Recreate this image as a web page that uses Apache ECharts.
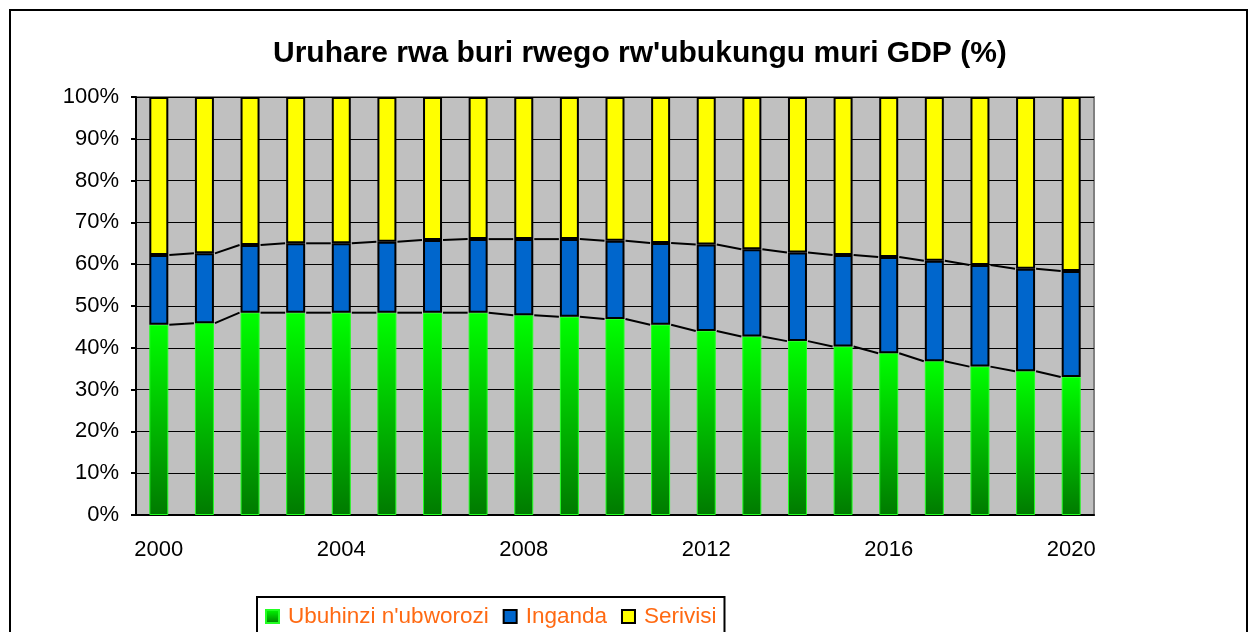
<!DOCTYPE html>
<html>
<head>
<meta charset="utf-8">
<script src="https://cdn.jsdelivr.net/npm/echarts@6/dist/echarts.min.js"></script>
<style>
  html, body { margin: 0; padding: 0; background: #fff; }
  #chart { width: 1251px; height: 632px; }
</style>
</head>
<body>
<div id="chart"></div>
<script>
const years = ['2000', '2001', '2002', '2003', '2004', '2005', '2006', '2007', '2008', '2009', '2010',
  '2011', '2012', '2013', '2014', '2015', '2016', '2017', '2018', '2019', '2020'];
// shares of GDP (%)
const agriculture = [45.5, 45.9, 48.4, 48.4, 48.4, 48.4, 48.4, 48.4, 47.8, 47.4, 46.9,
  45.5, 44.0, 42.7, 41.6, 40.3, 38.7, 36.8, 35.5, 34.4, 33.0];
const industry = [16.7, 16.7, 16.2, 16.6, 16.6, 17.0, 17.4, 17.6, 18.2, 18.6, 18.7,
  19.6, 20.7, 20.9, 21.2, 21.9, 23.0, 24.0, 24.3, 24.5, 25.4];
const services = [37.8, 37.4, 35.4, 35.0, 35.0, 34.6, 34.2, 34.0, 34.0, 34.0, 34.4,
  34.9, 35.3, 36.4, 37.2, 37.8, 38.3, 39.2, 40.2, 41.1, 41.6];
const seriesNames = ["Ubuhinzi n'ubworozi", 'Inganda', 'Serivisi'];

const font = 'Arial, "Liberation Sans", sans-serif';
const barW = 19;

// series lines (Excel style) joining the top of each stack part to the next bar
const joinData = [];
for (let i = 0; i < years.length - 1; i++) {
  joinData.push([
    i,
    agriculture[i], agriculture[i + 1],
    agriculture[i] + industry[i], agriculture[i + 1] + industry[i + 1],
  ]);
}

const chart = echarts.init(document.getElementById('chart'));

chart.setOption({
  animation: false,
  title: {
    text: "Uruhare rwa buri rwego rw'ubukungu muri GDP (%)",
    left: 268,
    top: 34,
    textStyle: { fontFamily: font, fontSize: 30, fontWeight: 'bold', color: '#000' },
  },
  graphic: [
    {
      type: 'rect',
      shape: { x: 10, y: 10, width: 1237, height: 660 },
      style: { fill: null, stroke: '#000', lineWidth: 2 },
      silent: true,
    },
  ],
  legend: {
    data: seriesNames,
    left: 257,
    top: 597,
    orient: 'horizontal',
    icon: 'rect',
    itemWidth: 13,
    itemHeight: 13,
    itemGap: 14,
    padding: [8, 8, 20, 8],
    borderColor: '#000',
    borderWidth: 2,
    textStyle: { fontFamily: font, fontSize: 22.5, color: '#ff6a13', padding: [0, 0, 0, 4] },
  },
  grid: {
    left: 136,
    right: 157,
    top: 97,
    bottom: 117,
    show: true,
    backgroundColor: '#c0c0c0',
    borderColor: '#808080',
    borderWidth: 2,
  },
  xAxis: {
    type: 'category',
    data: years,
    boundaryGap: true,
    axisLine: { lineStyle: { color: '#000', width: 2 } },
    axisTick: { interval: 0, length: 6, lineStyle: { color: '#000', width: 2 } },
    axisLabel: {
      interval: 3,
      margin: 24,
      fontFamily: font,
      fontSize: 22,
      color: '#000',
    },
  },
  yAxis: {
    type: 'value',
    min: 0,
    max: 100,
    interval: 10,
    axisLine: { show: true, lineStyle: { color: '#000', width: 2 } },
    axisTick: { show: true, length: 5, lineStyle: { color: '#000', width: 2 } },
    axisLabel: {
      formatter: '{value}%',
      margin: 17,
      fontFamily: font,
      fontSize: 22,
      color: '#000',
    },
    splitLine: { lineStyle: { color: '#000', width: 1 } },
  },
  series: [
    {
      name: seriesNames[0],
      type: 'bar',
      stack: 'gdp',
      barWidth: barW,
      data: agriculture,
      itemStyle: {
        color: new echarts.graphic.LinearGradient(0, 0, 0, 1, [
          { offset: 0, color: '#00ff00' },
          { offset: 1, color: '#007a00' },
        ]),
        borderColor: '#22ff22',
        borderWidth: 1,
      },
    },
    {
      name: seriesNames[1],
      type: 'bar',
      stack: 'gdp',
      barWidth: barW,
      data: industry,
      itemStyle: { color: '#0066cc', borderColor: '#000', borderWidth: 2 },
    },
    {
      name: seriesNames[2],
      type: 'bar',
      stack: 'gdp',
      barWidth: barW,
      data: services,
      itemStyle: { color: '#ffff00', borderColor: '#000', borderWidth: 2 },
    },
    {
      name: 'joins',
      type: 'custom',
      data: joinData,
      encode: { x: 0, y: [1, 2, 3, 4] },
      z: 3,
      silent: true,
      renderItem: (params, api) => {
        const i = api.value(0);
        const hw = barW / 2 + 1;
        const seg = (a, b) => {
          const p1 = api.coord([i, a]);
          const p2 = api.coord([i + 1, b]);
          return {
            type: 'line',
            shape: { x1: p1[0] + hw, y1: p1[1], x2: p2[0] - hw, y2: p2[1] },
            style: { stroke: '#000', lineWidth: 2 },
          };
        };
        return {
          type: 'group',
          children: [seg(api.value(1), api.value(2)), seg(api.value(3), api.value(4))],
        };
      },
    },
  ],
});

window.addEventListener('resize', () => {
  chart && chart.resize();
});
</script>
</body>
</html>
